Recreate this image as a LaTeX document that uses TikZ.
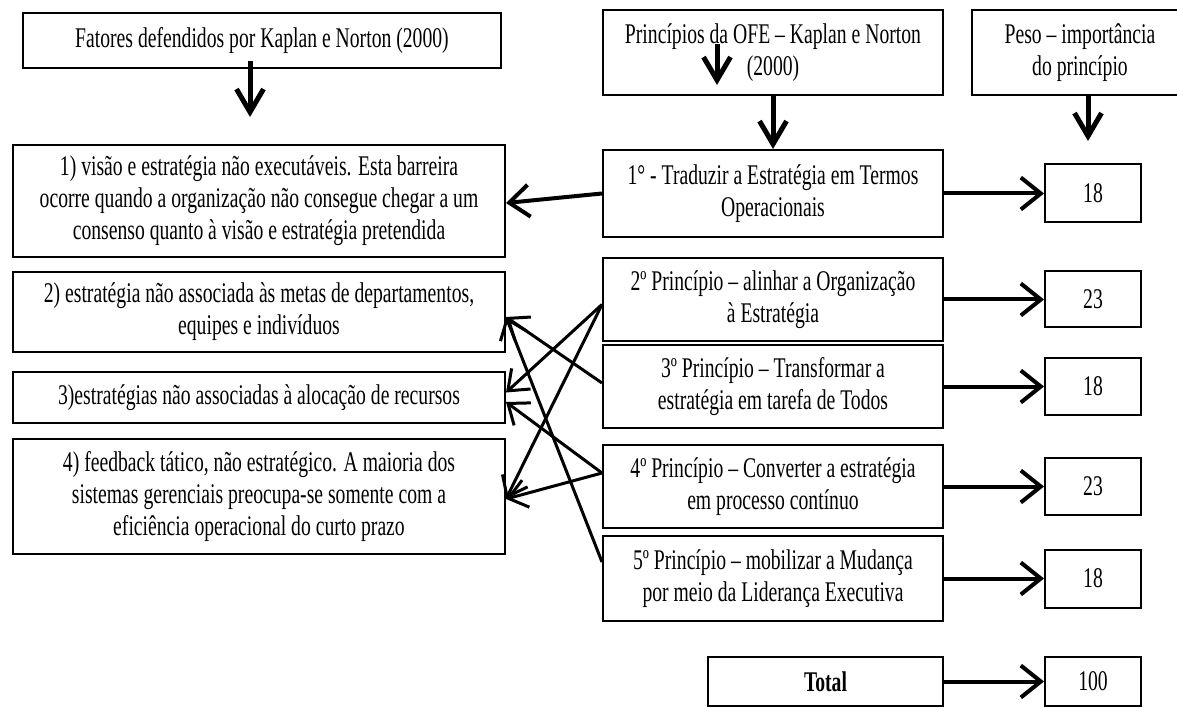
\documentclass[tikz,border=0pt]{standalone}
\usepackage{fontspec}
\setmainfont{Liberation Serif}[FakeStretch=0.69]
\usetikzlibrary{arrows.meta,calc}
\begin{document}
\begin{tikzpicture}[x=1pt,y=-1pt,
  box/.style={draw, line width=2pt, rectangle, inner sep=0pt, align=center,
              font=\fontsize{28.5}{32}\selectfont},
  arr/.style={line width=4pt, -{Straight Barb[length=20pt,width=32pt]}},
  downarr/.style={line width=5pt, -{Straight Barb[length=23pt,width=27pt]}},
  xarr/.style={line width=3pt, -{Straight Barb[length=18pt,width=28pt]}}]
\useasboundingbox (0,0) rectangle (1177,708);

% header boxes
\node[box, minimum width=478pt, minimum height=55pt] (A) at (262,40.5)
  {Fatores defendidos por Kaplan e Norton (2000)};
\node[box, minimum width=340pt, minimum height=85pt] (B) at (773,52.5)
  {Princípios da OFE – Kaplan e Norton\\(2000)};
\node[box, minimum width=216pt, minimum height=85pt] (C) at (1080,52.5)
  {Peso – importância\\do princípio};

% left column
\node[box, minimum width=492pt, minimum height=112pt] (L1) at (259,201)
  {1) visão e estratégia não executáveis. Esta barreira\\ocorre quando a organização não consegue chegar a um\\consenso quanto à visão e estratégia pretendida};
\node[box, minimum width=492pt, minimum height=80pt] (L2) at (259,312)
  {2) estratégia não associada às metas de departamentos,\\equipes e indivíduos};
\node[box, minimum width=492pt, minimum height=51pt] (L3) at (259,397.5)
  {3)estratégias não associadas à alocação de recursos};
\node[box, minimum width=492pt, minimum height=115pt] (L4) at (259,496.5)
  {4) feedback tático, não estratégico. A maioria dos\\sistemas gerenciais preocupa-se somente com a\\eficiência operacional do curto prazo};

% middle column
\node[box, minimum width=340pt, minimum height=87pt] (P1) at (773,193.5)
  {1° - Traduzir a Estratégia em Termos\\Operacionais};
\node[box, minimum width=340pt, minimum height=83pt] (P2) at (773,299.5)
  {2º Princípio – alinhar a Organização\\à Estratégia};
\node[box, minimum width=340pt, minimum height=83pt] (P3) at (773,386.5)
  {3º Princípio – Transformar a\\estratégia em tarefa de Todos};
\node[box, minimum width=340pt, minimum height=83pt] (P4) at (773,486.5)
  {4º Princípio – Converter a estratégia\\em processo contínuo};
\node[box, minimum width=340pt, minimum height=85pt] (P5) at (773,578.5)
  {5º Princípio – mobilizar a Mudança\\por meio da Liderança Executiva};
\node[box, minimum width=235pt, minimum height=49pt, font=\fontsize{28.5}{32}\selectfont\bfseries] (T) at (825.5,681.5) {Total};

% value column
\node[box, minimum width=96pt, minimum height=58pt] (V1) at (1093,193.5) {18};
\node[box, minimum width=96pt, minimum height=56pt] (V2) at (1093,299.5) {23};
\node[box, minimum width=96pt, minimum height=57pt] (V3) at (1093,386.5) {18};
\node[box, minimum width=96pt, minimum height=57pt] (V4) at (1093,486.5) {23};
\node[box, minimum width=96pt, minimum height=58pt] (V5) at (1093,578.5) {18};
\node[box, minimum width=96pt, minimum height=49pt] (V6) at (1093,681.5) {100};

% vertical arrows at the top
\coordinate (aE) at (250,117);
\draw[downarr] ($(A.south -| aE)+(0,-8)$) -- (aE);
\coordinate (bS) at (717,44);
\coordinate (bE) at (717,85);
\draw[downarr] (bS) -- (bE);
\draw[downarr] (B) -- (P1);
\coordinate (cE) at (1088,141);
\draw[downarr] (C.south -| cE) -- (cE);

% arrows to the values
\draw[arr] (P1) -- (V1);
\draw[arr] (P2) -- (V2);
\draw[arr] (P3) -- (V3);
\draw[arr] (P4) -- (V4);
\draw[arr] (P5) -- (V5);
\draw[arr] (T) -- (V6);

% arrows to the barriers
\draw[arr] (P1.west) -- ([yshift=-2pt]L1.east);
\draw[xarr] ([yshift=-5pt]P2.west) -- ([yshift=5pt]L3.east);
\draw[xarr] ([yshift=-5pt]P2.west) -- ([yshift=-2.5pt]L4.east);
\draw[xarr] ([yshift=3.5pt]P3.west) -- ([yshift=-5pt]L2.east);
\draw[xarr] ([yshift=13.5pt]P4.west) -- ([yshift=-4.5pt]L3.east);
\draw[xarr] ([yshift=13.5pt]P4.west) -- ([yshift=-2.5pt]L4.east);
\draw[xarr] ([yshift=16.5pt]P5.west) -- ([yshift=-5pt]L2.east);
\end{tikzpicture}
\end{document}
